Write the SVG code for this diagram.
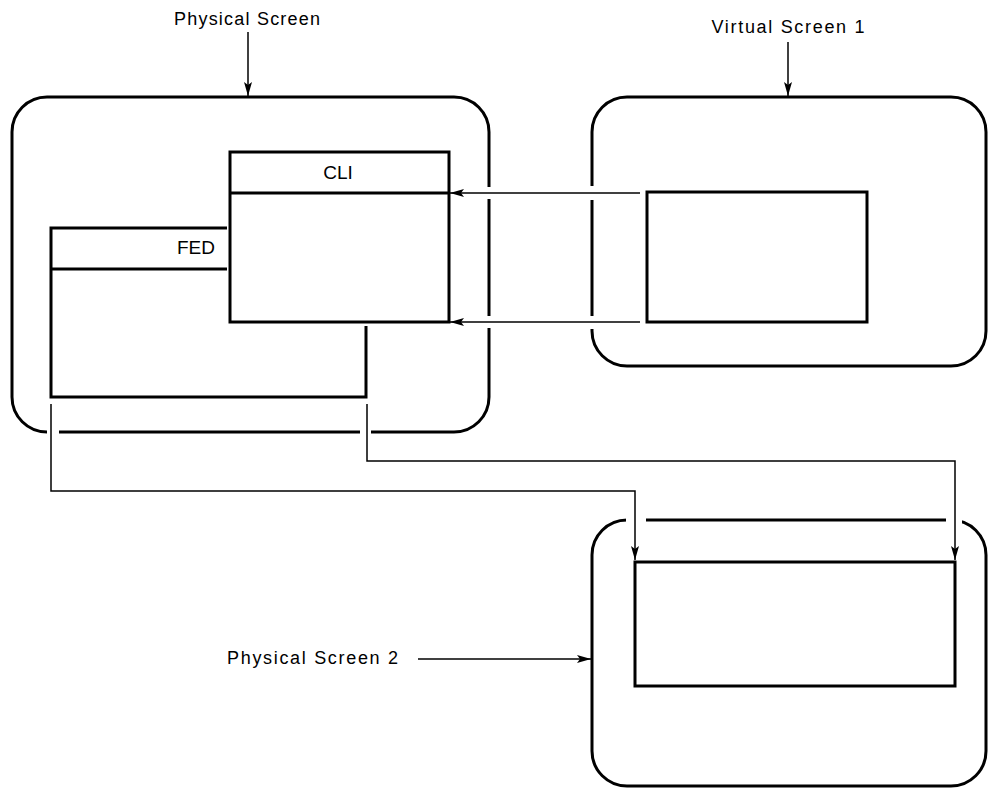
<svg xmlns="http://www.w3.org/2000/svg" width="988" height="788" viewBox="0 0 988 788">
<style>
.box{fill:none;stroke:#000;stroke-width:3}
.win{fill:#fff;stroke:#000;stroke-width:3}
.ln{fill:none;stroke:#000;stroke-width:3}
.con{fill:none;stroke:#000;stroke-width:1.5}
.lbl{font-family:"Liberation Sans",Arial,sans-serif;font-size:18px;fill:#000}
.ttl{font-family:"Liberation Sans",Arial,sans-serif;font-size:19px;fill:#000}
</style>
<defs>
<marker id="ah" viewBox="0 0 14 8" refX="14" refY="4" markerWidth="14" markerHeight="8" markerUnits="userSpaceOnUse" orient="auto">
<path d="M0,0 L14,4 L0,8 L3,4 Z" fill="#000"/>
</marker>
<mask id="m1"><rect x="0" y="0" width="988" height="788" fill="#fff"/><rect x="47" y="426" width="12" height="12" fill="#000"/><rect x="360" y="426" width="11" height="12" fill="#000"/><rect x="483" y="187" width="12" height="12" fill="#000"/><rect x="483" y="316" width="12" height="12" fill="#000"/></mask>
<mask id="m2"><rect x="0" y="0" width="988" height="788" fill="#fff"/><rect x="586" y="186" width="12" height="14" fill="#000"/><rect x="586" y="316" width="12" height="13" fill="#000"/></mask>
<mask id="m3"><rect x="0" y="0" width="988" height="788" fill="#fff"/><rect x="626" y="512" width="20" height="16" fill="#000"/><rect x="946" y="512" width="16" height="16" fill="#000"/></mask>
</defs>
<g id="physical-screen">
<rect class="box" x="12" y="97" width="477" height="335" rx="35" ry="35" mask="url(#m1)"/>
<text class="lbl" x="247" y="25" text-anchor="middle" textLength="146" lengthAdjust="spacing">Physical Screen</text>
</g>
<g id="fed">
<path class="ln" d="M227,228 H51 V397 H366 V326 M51,269 H227"/>
<text class="ttl" x="196" y="254" text-anchor="middle">FED</text>
</g>
<g id="cli">
<rect class="win" x="230" y="152" width="219" height="170"/>
<line class="ln" x1="230" y1="193" x2="449" y2="193"/>
<text class="ttl" x="338" y="179" text-anchor="middle">CLI</text>
</g>
<g id="virtual-screen-1">
<rect class="box" x="592" y="97" width="394" height="269" rx="35" ry="35" mask="url(#m2)"/>
<rect class="win" x="647" y="192" width="220" height="130"/>
<text class="lbl" x="788" y="33" text-anchor="middle" textLength="153" lengthAdjust="spacing">Virtual Screen 1</text>
</g>
<g id="physical-screen-2">
<rect class="box" x="592" y="520" width="394" height="266" rx="35" ry="35" mask="url(#m3)"/>
<rect class="win" x="635" y="562" width="320" height="124"/>
<text class="lbl" x="227" y="664" textLength="171" lengthAdjust="spacing">Physical Screen 2</text>
</g>
<g id="connectors">
<line class="con" x1="248" y1="32" x2="248" y2="96" marker-end="url(#ah)"/>
<line class="con" x1="788" y1="42" x2="788" y2="96" marker-end="url(#ah)"/>
<line class="con" x1="418" y1="659" x2="591" y2="659" marker-end="url(#ah)"/>
<line class="con" x1="640" y1="193" x2="450" y2="193" marker-end="url(#ah)"/>
<line class="con" x1="640" y1="322" x2="450" y2="322" marker-end="url(#ah)"/>
<polyline class="con" points="51,404 51,491 635,491 635,560" marker-end="url(#ah)"/>
<polyline class="con" points="367,404 367,461 955,461 955,560" marker-end="url(#ah)"/>
</g>
</svg>
